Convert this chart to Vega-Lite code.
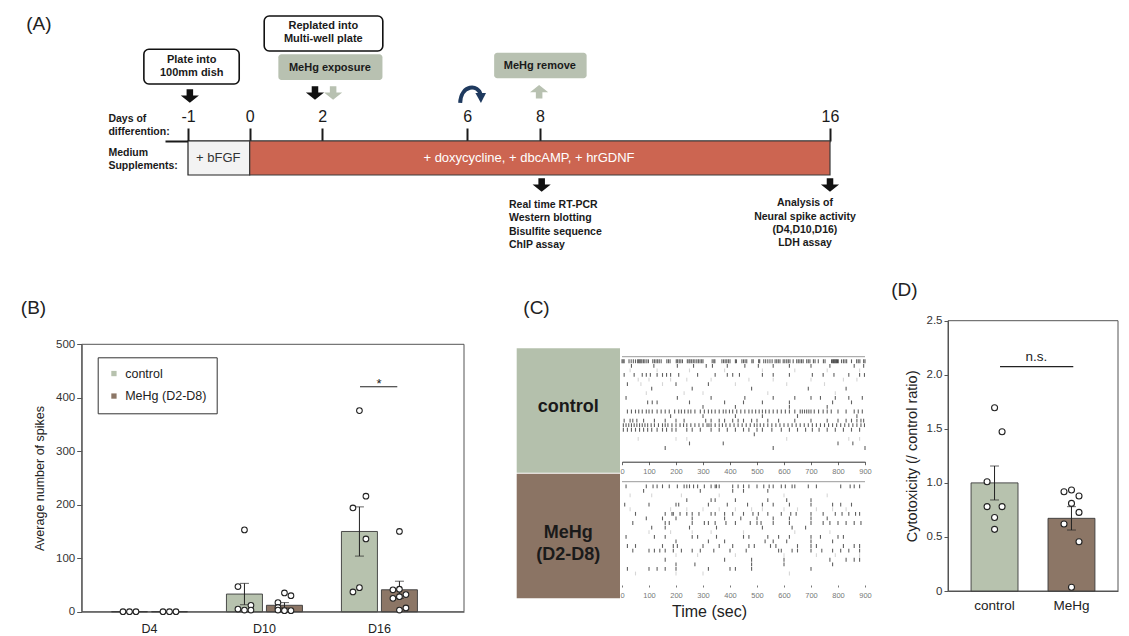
{
"$schema": "https://vega.github.io/schema/vega-lite/v6.json",
"width": 1129,
"height": 636,
"autosize": {"type": "none"},
"padding": 0,
"background": "white",
"config": {"view": {"stroke": null}, "font": "Liberation Sans"},
"datasets": {
 "one": [{"k": 1}],
 "aSeg": [
  {"seg": "bFGF", "from": -1, "to": 0, "label": "+ bFGF", "at": -0.51},
  {"seg": "main", "from": 0, "to": 16, "label": "+ doxycycline,  + dbcAMP,  + hrGDNF", "at": 7.7}
 ],
 "aCallouts": [
  {"kind": "box", "text": "Plate into\n100mm dish", "x0": -1.71, "x1": -0.17, "y0": 4.93, "y1": 8.4, "tx": -0.94, "ty": 6.03},
  {"kind": "box", "text": "Replated into\nMulti-well plate", "x0": 0.4, "x1": 3.67, "y0": 1.6, "y1": 5.1, "tx": 2.03, "ty": 2.62},
  {"kind": "tag", "text": "MeHg exposure", "x0": 0.79, "x1": 3.66, "y0": 5.43, "y1": 8.0, "tx": 2.21, "ty": 6.77},
  {"kind": "tag", "text": "MeHg remove", "x0": 6.74, "x1": 9.29, "y0": 5.27, "y1": 7.83, "tx": 8.0, "ty": 6.6}
 ],
 "aArrows": [
  {"kind": "blackdown", "day": -0.97, "lvl": 9.6},
  {"kind": "blackdown", "day": 1.8, "lvl": 9.3},
  {"kind": "blackdown", "day": 8.05, "lvl": 18.5},
  {"kind": "blackdown", "day": 16, "lvl": 18.5},
  {"kind": "greydown", "day": 2.3, "lvl": 9.3},
  {"kind": "greyup", "day": 7.98, "lvl": 9.17},
  {"kind": "curve", "day": 6.15, "lvl": 9.5}
 ],
 "aNotes": [
  {"style": "side", "text": "Days of\ndifferention:", "day": -2.28, "lvl": 11.9},
  {"style": "side", "text": "Medium\nSupplements:", "day": -2.28, "lvl": 15.27},
  {"style": "side", "text": "Real time RT-PCR\nWestern blotting\nBisulfite sequence\nChIP assay", "day": 7.15, "lvl": 20.5},
  {"style": "center", "text": "Analysis of\nNeural spike activity\n(D4,D10,D16)\nLDH assay", "day": 15.31, "lvl": 20.33},
  {"style": "heading", "text": "(A)", "day": -3.4, "lvl": 2.35}
 ],
 "bBars": [
  {"day": "D4", "group": "control", "mean": 0, "lo": 0, "hi": 0},
  {"day": "D4", "group": "MeHg (D2-D8)", "mean": 0, "lo": 0, "hi": 0},
  {"day": "D10", "group": "control", "mean": 33, "lo": 13, "hi": 53},
  {"day": "D10", "group": "MeHg (D2-D8)", "mean": 12, "lo": 7, "hi": 17},
  {"day": "D16", "group": "control", "mean": 150, "lo": 104, "hi": 196},
  {"day": "D16", "group": "MeHg (D2-D8)", "mean": 41, "lo": 25, "hi": 57}
 ],
 "bPts": [
  {"day": "D4", "group": "control", "v": 0, "j": -1},
  {"day": "D4", "group": "control", "v": 0, "j": 0},
  {"day": "D4", "group": "control", "v": 0, "j": 1},
  {"day": "D4", "group": "MeHg (D2-D8)", "v": 0, "j": -1},
  {"day": "D4", "group": "MeHg (D2-D8)", "v": 0, "j": 0},
  {"day": "D4", "group": "MeHg (D2-D8)", "v": 0, "j": 1},
  {"day": "D10", "group": "control", "v": 153, "j": 0},
  {"day": "D10", "group": "control", "v": 47, "j": -1},
  {"day": "D10", "group": "control", "v": 12, "j": 1},
  {"day": "D10", "group": "control", "v": 5, "j": -1},
  {"day": "D10", "group": "control", "v": 3, "j": 0},
  {"day": "D10", "group": "control", "v": 3, "j": 1},
  {"day": "D10", "group": "MeHg (D2-D8)", "v": 35, "j": 0},
  {"day": "D10", "group": "MeHg (D2-D8)", "v": 30, "j": 1},
  {"day": "D10", "group": "MeHg (D2-D8)", "v": 17, "j": -1},
  {"day": "D10", "group": "MeHg (D2-D8)", "v": 8, "j": -1},
  {"day": "D10", "group": "MeHg (D2-D8)", "v": 3, "j": -1},
  {"day": "D10", "group": "MeHg (D2-D8)", "v": 2, "j": 0},
  {"day": "D10", "group": "MeHg (D2-D8)", "v": 2, "j": 1},
  {"day": "D16", "group": "control", "v": 376, "j": 0},
  {"day": "D16", "group": "control", "v": 216, "j": 1},
  {"day": "D16", "group": "control", "v": 194, "j": -1},
  {"day": "D16", "group": "control", "v": 136, "j": 1},
  {"day": "D16", "group": "control", "v": 45, "j": 0},
  {"day": "D16", "group": "control", "v": 37, "j": -1},
  {"day": "D16", "group": "MeHg (D2-D8)", "v": 150, "j": 0},
  {"day": "D16", "group": "MeHg (D2-D8)", "v": 41, "j": -1},
  {"day": "D16", "group": "MeHg (D2-D8)", "v": 42, "j": 0},
  {"day": "D16", "group": "MeHg (D2-D8)", "v": 32, "j": 1},
  {"day": "D16", "group": "MeHg (D2-D8)", "v": 25, "j": -1},
  {"day": "D16", "group": "MeHg (D2-D8)", "v": 28, "j": 0},
  {"day": "D16", "group": "MeHg (D2-D8)", "v": 7, "j": 1},
  {"day": "D16", "group": "MeHg (D2-D8)", "v": 3, "j": 0}
 ],
 "bNotes": [{"text": "(B)", "x": -0.126, "y": 568}],
 "bSig": [{"from": 0.728, "to": 0.8255, "y": 420.7, "ty": 426, "label": "*"}],
 "cBoxes": [
  {"g": "control", "label": "control"},
  {"g": "MeHg", "label": "MeHg\n(D2-D8)"}
 ],
 "cNotes": [{"text": "(C)", "x": -316.7, "y": -10.67}],
 "cRaster": [
  {"ch": 1, "k": "d", "t": [0,4,8,26,34,42,50,58,62,66,70,74,80,85,92,98,114,120,126,132,138,145,166,172,178,201,206,212,218,224,242,248,252,258,264,270,277,283,289,295,300,334,340,344,370,376,382,388,394,400,420,424,444,450,456,462,481,486,506,510,525,532,540,548,556,567,573,579,585,597,603,610,616,622,634,647,653,659,665,671,684,690,696,709,715,727,746,752,776,779,783,786,789,792,795,798,801,813,820,826,832,850,869,875,881,895,900]},
  {"ch": 2, "k": "d", "t": [35,118,205,265,312,335,390,455,505,560,620,700,770,860,895]},
  {"ch": 3, "k": "f", "t": [30,130,250,380,520,640,760,880]},
  {"ch": 4, "k": "d", "t": [8,45,75,90,105,130,150,165,180,210,280,345,390,410,435,520,560,620,705,745,785,840,880,898]},
  {"ch": 5, "k": "f", "t": [60,100,180,240,330,470,560,700,820,870]},
  {"ch": 6, "k": "f", "t": [70,150,420,610,750]},
  {"ch": 6, "k": "d", "t": [20,200,320]},
  {"ch": 7, "k": "d", "t": [110,260,480,690,830]},
  {"ch": 8, "k": "f", "t": [90,230,300,540,790]},
  {"ch": 9, "k": "d", "t": [15,205,330,455,560,640,700,735,790,840,890]},
  {"ch": 10, "k": "d", "t": [95,112,130,250,380,450,520,620,780,850]},
  {"ch": 11, "k": "d", "t": [300,420,620,760]},
  {"ch": 12, "k": "d", "t": [20,35,50,62,75,90,100,112,130,145,160,175,195,210,220,232,245,255,270,290,305,320,332,345,360,375,385,398,410,425,440,455,470,482,495,508,520,532,545,560,575,590,605,620,640,660,668,676,684,692,700,712,728,745,760,775,800,830,860,875,890]},
  {"ch": 13, "k": "d", "t": [180,300,420,520,650,870]},
  {"ch": 14, "k": "d", "t": [8,30,40,55,80,120,160,200,230,310,330,360,380,410,430,450,480,500,540,580,640,700,760,800,830,850,870,885,895]},
  {"ch": 15, "k": "d", "t": [5,15,25,35,45,55,65,75,85,95,108,120,135,150,160,170,185,200,215,228,240,255,270,285,300,315,322,330,345,360,372,385,400,415,430,445,460,475,490,500,512,525,540,555,570,585,600,615,630,645,660,675,690,705,720,735,750,765,780,795,810,825,840,855,870,885,898]},
  {"ch": 16, "k": "d", "t": [5,20,35,50,65,80,95,110,130,150,165,185,200,240,260,290,330,360,390,420,450,470,500,520,555,590,620,650,680,705,730,760,790,820,850,880]},
  {"ch": 17, "k": "d", "t": [490]},
  {"ch": 18, "k": "f", "t": [60,200,240,610,840,880]},
  {"ch": 19, "k": "d", "t": [250,375,800,855]},
  {"ch": 20, "k": "d", "t": [160,560,900]}
 ],
 "mRaster": [
  {"ch": 1, "k": "d", "t": [15,90,115,130,150,175,205,230,240,250,265,280,305,330,345,350,360,410,430,450,470,500,525,545,560,590,605,630,640,690,720,810,845,860,880]},
  {"ch": 2, "k": "d", "t": [80,290,410,450,540]},
  {"ch": 3, "k": "f", "t": [30,110,220,360,600,760]},
  {"ch": 4, "k": "d", "t": [240,330,345,420,540,610,700]},
  {"ch": 5, "k": "d", "t": [10,100,200,210,320,390,465,520,560,620,700,780,810,850]},
  {"ch": 6, "k": "f", "t": [30,180,240,300,360,420,480,520,600,650,720,780,830]},
  {"ch": 7, "k": "d", "t": [50,160,185,190,215,240,260,285,330,345,380,410,450,485,505,540,590,625,645,700,745,790,815,840,865,880]},
  {"ch": 8, "k": "d", "t": [90,150,200,260,380,440,500,560,620,700,760]},
  {"ch": 9, "k": "d", "t": [40,160,175,260,305,320,345,385,420,475,500,515,560,620,700,745,770,800,830,860,885]},
  {"ch": 10, "k": "d", "t": [110,160,250,350,520,630,680]},
  {"ch": 11, "k": "f", "t": [100,180,260,330,450,640,770]},
  {"ch": 12, "k": "d", "t": [15,120,160,260,280,350,450,470,540,580,620,700,735,800,820]},
  {"ch": 13, "k": "d", "t": [200,320,380,530,560,610,700,780]},
  {"ch": 14, "k": "d", "t": [20,50,150,190,205,300,360,410,470,490,550,570,650,700,720,820,860,880]},
  {"ch": 15, "k": "d", "t": [40,100,120,140,160,190,220,260,290,340,400,460,580,590,630,650,700,740,780,810,840,880]},
  {"ch": 16, "k": "f", "t": [200,280,420,600,720,790,880]},
  {"ch": 17, "k": "d", "t": [160,380,480,600,770,830,860,880]},
  {"ch": 18, "k": "d", "t": [200,270,480,600,780]},
  {"ch": 19, "k": "d", "t": [20,100,130,160,200,320,400,420,480,700]},
  {"ch": 20, "k": "f", "t": [50,200,300,620]}
 ],
 "dBars": [
  {"group": "control", "mean": 1.0, "lo": 0.842, "hi": 1.156},
  {"group": "MeHg", "mean": 0.672, "lo": 0.564, "hi": 0.78}
 ],
 "dPts": [
  {"group": "control", "v": 1.695, "j": 0},
  {"group": "control", "v": 1.473, "j": 1},
  {"group": "control", "v": 1.011, "j": -1},
  {"group": "control", "v": 0.78, "j": -1},
  {"group": "control", "v": 0.78, "j": 1},
  {"group": "control", "v": 0.68, "j": 0},
  {"group": "control", "v": 0.57, "j": 0},
  {"group": "MeHg", "v": 0.934, "j": 0},
  {"group": "MeHg", "v": 0.918, "j": -1},
  {"group": "MeHg", "v": 0.878, "j": 1},
  {"group": "MeHg", "v": 0.81, "j": 0},
  {"group": "MeHg", "v": 0.727, "j": 1},
  {"group": "MeHg", "v": 0.62, "j": -1},
  {"group": "MeHg", "v": 0.456, "j": 1},
  {"group": "MeHg", "v": 0.034, "j": 0}
 ],
 "dNotes": [{"text": "(D)", "x": -0.256, "y": 2.784}],
 "dSig": [{"from": 0.306, "to": 0.737, "y": 2.075, "ty": 2.165, "label": "n.s."}]
},
"layer": [
 {
  "layer": [
   {
    "data": {"name": "aSeg"},
    "transform": [{"filter": "datum.seg == 'bFGF'"}],
    "mark": {"type": "rect", "fill": "#f3f3f3", "stroke": "#222", "strokeWidth": 1.2},
    "encoding": {
     "x": {"field": "from", "type": "quantitative",
      "scale": {"domain": [-1.37, -1, 0, 16], "range": [165, 188, 249.7, 830], "nice": false, "zero": false},
      "axis": {"orient": "top", "offset": -141, "values": [-1, 0, 2, 6, 8, 16], "labelExpr": "'' + datum.value", "title": null, "grid": false,
       "domainColor": "#1a1a1a", "domainWidth": 2, "tickColor": "#1a1a1a", "tickWidth": 2, "tickSize": 13,
       "labelFontSize": 16, "labelColor": "#1a1a1a", "labelPadding": 4, "labelFlush": false, "labelOverlap": false}},
     "x2": {"field": "to"},
     "y": {"datum": 14.1, "type": "quantitative", "scale": {"domain": [0, 27], "range": [0, 270], "nice": false, "zero": false}, "axis": null},
     "y2": {"datum": 17.5}
    }
   },
   {
    "data": {"name": "aSeg"},
    "transform": [{"filter": "datum.seg == 'main'"}],
    "mark": {"type": "rect", "fill": "#cc6551", "stroke": "#3a3a3a", "strokeWidth": 1.2},
    "encoding": {
     "x": {"field": "from", "type": "quantitative"},
     "x2": {"field": "to"},
     "y": {"datum": 14.1, "type": "quantitative", "axis": null},
     "y2": {"datum": 17.5}
    }
   },
   {
    "data": {"name": "aSeg"},
    "transform": [{"filter": "datum.seg == 'bFGF'"}],
    "mark": {"type": "text", "fontSize": 13, "color": "#333"},
    "encoding": {
     "x": {"field": "at", "type": "quantitative"},
     "y": {"datum": 15.75, "type": "quantitative", "axis": null},
     "text": {"field": "label"}
    }
   },
   {
    "data": {"name": "aSeg"},
    "transform": [{"filter": "datum.seg == 'main'"}],
    "mark": {"type": "text", "fontSize": 13, "color": "white"},
    "encoding": {
     "x": {"field": "at", "type": "quantitative"},
     "y": {"datum": 15.75, "type": "quantitative", "axis": null},
     "text": {"field": "label"}
    }
   },
   {
    "data": {"name": "aCallouts"},
    "transform": [{"filter": "datum.kind == 'box'"}],
    "mark": {"type": "rect", "fill": "white", "stroke": "#111", "strokeWidth": 1.6, "cornerRadius": 5},
    "encoding": {
     "x": {"field": "x0", "type": "quantitative"},
     "x2": {"field": "x1"},
     "y": {"field": "y0", "type": "quantitative", "axis": null},
     "y2": {"field": "y1"}
    }
   },
   {
    "data": {"name": "aCallouts"},
    "transform": [{"filter": "datum.kind == 'tag'"}],
    "mark": {"type": "rect", "fill": "#b8c1b1", "cornerRadius": 3},
    "encoding": {
     "x": {"field": "x0", "type": "quantitative"},
     "x2": {"field": "x1"},
     "y": {"field": "y0", "type": "quantitative", "axis": null},
     "y2": {"field": "y1"}
    }
   },
   {
    "data": {"name": "aCallouts"},
    "mark": {"type": "text", "fontSize": 11, "fontWeight": "bold", "color": "#1a1a1a", "lineBreak": "\n", "lineHeight": 13},
    "encoding": {
     "x": {"field": "tx", "type": "quantitative"},
     "y": {"field": "ty", "type": "quantitative", "axis": null},
     "text": {"field": "text"}
    }
   },
   {
    "data": {"name": "aArrows"},
    "transform": [{"filter": "datum.kind == 'blackdown'"}],
    "mark": {"type": "point", "shape": "M-0.36,-0.75L0.36,-0.75L0.36,-0.05L1,-0.05L0,0.75L-1,-0.05L-0.36,-0.05Z", "filled": true, "fill": "#111", "size": 330, "opacity": 1},
    "encoding": {
     "x": {"field": "day", "type": "quantitative"},
     "y": {"field": "lvl", "type": "quantitative", "axis": null}
    }
   },
   {
    "data": {"name": "aArrows"},
    "transform": [{"filter": "datum.kind == 'greydown'"}],
    "mark": {"type": "point", "shape": "M-0.36,-0.75L0.36,-0.75L0.36,-0.05L1,-0.05L0,0.75L-1,-0.05L-0.36,-0.05Z", "filled": true, "fill": "#b8c1b1", "size": 330, "opacity": 1},
    "encoding": {
     "x": {"field": "day", "type": "quantitative"},
     "y": {"field": "lvl", "type": "quantitative", "axis": null}
    }
   },
   {
    "data": {"name": "aArrows"},
    "transform": [{"filter": "datum.kind == 'greyup'"}],
    "mark": {"type": "point", "shape": "M-0.36,0.75L0.36,0.75L0.36,0.05L1,0.05L0,-0.75L-1,0.05L-0.36,0.05Z", "filled": true, "fill": "#b8c1b1", "size": 330, "opacity": 1},
    "encoding": {
     "x": {"field": "day", "type": "quantitative"},
     "y": {"field": "lvl", "type": "quantitative", "axis": null}
    }
   },
   {
    "data": {"name": "aArrows"},
    "transform": [{"filter": "datum.kind == 'curve'"}],
    "mark": {"type": "point", "shape": "M-0.95,0.6C-0.9,-0.8 0.45,-0.85 0.6,0.0", "filled": false, "stroke": "#1f3a5f", "strokeWidth": 4, "size": 700, "opacity": 1},
    "encoding": {
     "x": {"field": "day", "type": "quantitative"},
     "y": {"field": "lvl", "type": "quantitative", "axis": null}
    }
   },
   {
    "data": {"name": "aArrows"},
    "transform": [{"filter": "datum.kind == 'curve'"}],
    "mark": {"type": "point", "shape": "M0.2,-0.15L1.0,-0.15L0.62,0.6Z", "filled": true, "fill": "#1f3a5f", "size": 700, "opacity": 1},
    "encoding": {
     "x": {"field": "day", "type": "quantitative"},
     "y": {"field": "lvl", "type": "quantitative", "axis": null}
    }
   },
   {
    "data": {"name": "aNotes"},
    "transform": [{"filter": "datum.style == 'side'"}],
    "mark": {"type": "text", "align": "left", "fontSize": 10.5, "fontWeight": "bold", "color": "#1a1a1a", "lineBreak": "\n", "lineHeight": 13.4},
    "encoding": {
     "x": {"field": "day", "type": "quantitative"},
     "y": {"field": "lvl", "type": "quantitative", "axis": null},
     "text": {"field": "text"}
    }
   },
   {
    "data": {"name": "aNotes"},
    "transform": [{"filter": "datum.style == 'center'"}],
    "mark": {"type": "text", "align": "center", "fontSize": 10.5, "fontWeight": "bold", "color": "#1a1a1a", "lineBreak": "\n", "lineHeight": 13.4},
    "encoding": {
     "x": {"field": "day", "type": "quantitative"},
     "y": {"field": "lvl", "type": "quantitative", "axis": null},
     "text": {"field": "text"}
    }
   },
   {
    "data": {"name": "aNotes"},
    "transform": [{"filter": "datum.style == 'heading'"}],
    "mark": {"type": "text", "align": "center", "fontSize": 19, "color": "#222"},
    "encoding": {
     "x": {"field": "day", "type": "quantitative"},
     "y": {"field": "lvl", "type": "quantitative", "axis": null},
     "text": {"field": "text"}
    }
   }
  ]
 },
 {
  "layer": [
   {
    "data": {"name": "one"},
    "mark": {"type": "rect", "fillOpacity": 0, "stroke": "#555", "strokeWidth": 1},
    "encoding": {
     "x": {"datum": 0, "type": "quantitative", "scale": {"domain": [0, 1], "range": [81.7, 464], "nice": false, "zero": false}, "axis": null},
     "x2": {"datum": 1},
     "y": {"datum": 0, "type": "quantitative", "scale": {"domain": [0, 500], "range": [611.7, 344.3], "nice": false, "zero": false}, "axis": null},
     "y2": {"datum": 500}
    }
   },
   {
    "data": {"name": "bNotes"},
    "mark": {"type": "text", "fontSize": 19, "color": "#222"},
    "encoding": {
     "x": {"field": "x", "type": "quantitative", "axis": null},
     "y": {"field": "y", "type": "quantitative", "axis": null},
     "text": {"field": "text"}
    }
   },
   {
    "data": {"name": "bSig"},
    "mark": {"type": "rule", "color": "#222", "strokeWidth": 1.1},
    "encoding": {
     "x": {"field": "from", "type": "quantitative", "axis": null},
     "x2": {"field": "to"},
     "y": {"field": "y", "type": "quantitative", "axis": null}
    }
   },
   {
    "data": {"name": "bSig"},
    "mark": {"type": "text", "fontSize": 13, "color": "#222"},
    "encoding": {
     "x": {"datum": 0.778, "type": "quantitative", "axis": null},
     "y": {"field": "ty", "type": "quantitative", "axis": null},
     "text": {"field": "label"}
    }
   }
  ]
 },
 {
  "layer": [
   {
    "data": {"name": "bBars"},
    "mark": {"type": "bar", "stroke": "#3a3a3a", "strokeWidth": 0.9},
    "encoding": {
     "x": {"field": "day", "type": "nominal",
      "scale": {"domain": ["D4", "D10", "D16"], "range": [81.7, 464], "paddingInner": 0.339, "paddingOuter": 0.332, "align": 0.39},
      "axis": {"orient": "bottom", "offset": -24.3, "title": null, "ticks": false, "labelAngle": 0, "labelFontSize": 12.5, "labelColor": "#222", "labelPadding": 11, "domainColor": "#555"}},
     "xOffset": {"field": "group", "type": "nominal", "scale": {"domain": ["control", "MeHg (D2-D8)"], "paddingInner": 0.1, "paddingOuter": 0}},
     "y": {"field": "mean", "type": "quantitative",
      "scale": {"domain": [0, 500], "range": [611.7, 344.3], "nice": false, "zero": false},
      "axis": {"orient": "left", "offset": -81.7, "values": [0, 100, 200, 300, 400, 500], "title": "Average number of spikes", "grid": false,
       "domainColor": "#555", "tickColor": "#555", "tickSize": 5, "labelFontSize": 11.5, "labelColor": "#333", "labelPadding": 2,
       "titleFontSize": 12.5, "titleFontWeight": "normal", "titleColor": "#222", "titlePadding": 9}},
     "color": {"field": "group", "type": "nominal",
      "scale": {"domain": ["control", "MeHg (D2-D8)"], "range": ["#b7c2ae", "#8c7666"]},
      "legend": {"orient": "none", "legendX": 97.7, "legendY": 357.3, "title": null, "strokeColor": "#333", "fillColor": "white",
       "padding": 10, "symbolType": "square", "symbolSize": 28, "symbolStrokeWidth": 0, "labelFontSize": 12.5, "labelColor": "#222",
       "rowPadding": 9.5, "labelOffset": 5}}
    }
   },
   {
    "data": {"name": "bBars"},
    "transform": [{"filter": "datum.hi > 0"}],
    "mark": {"type": "rule", "color": "#222", "strokeWidth": 1},
    "encoding": {
     "x": {"field": "day", "type": "nominal"},
     "xOffset": {"field": "group", "type": "nominal"},
     "y": {"field": "lo", "type": "quantitative"},
     "y2": {"field": "hi"}
    }
   },
   {
    "data": {"name": "bBars"},
    "transform": [{"filter": "datum.hi > 0"}, {"fold": ["lo", "hi"], "as": ["which", "val"]}],
    "mark": {"type": "tick", "color": "#222", "size": 9, "thickness": 1},
    "encoding": {
     "x": {"field": "day", "type": "nominal"},
     "xOffset": {"field": "group", "type": "nominal"},
     "y": {"field": "val", "type": "quantitative"}
    }
   }
  ]
 },
 {
  "data": {"name": "bPts"},
  "transform": [{"filter": "datum.group == 'control'"}],
  "mark": {"type": "point", "shape": "circle", "filled": true, "fill": "white", "stroke": "#222", "strokeWidth": 1.1, "size": 32, "opacity": 1},
  "encoding": {
   "x": {"field": "day", "type": "nominal", "scale": {"domain": ["D4", "D10", "D16"], "range": [81.7, 464], "paddingInner": 0.339, "paddingOuter": 0.332, "align": 0.39}, "axis": null},
   "xOffset": {"field": "j", "type": "quantitative", "scale": {"domain": [-1, 1], "range": [11.5, 24.5], "nice": false, "zero": false}},
   "y": {"field": "v", "type": "quantitative", "scale": {"domain": [0, 500], "range": [611.7, 344.3], "nice": false, "zero": false}, "axis": null}
  }
 },
 {
  "data": {"name": "bPts"},
  "transform": [{"filter": "datum.group != 'control'"}],
  "mark": {"type": "point", "shape": "circle", "filled": true, "fill": "white", "stroke": "#222", "strokeWidth": 1.1, "size": 32, "opacity": 1},
  "encoding": {
   "x": {"field": "day", "type": "nominal", "scale": {"domain": ["D4", "D10", "D16"], "range": [81.7, 464], "paddingInner": 0.339, "paddingOuter": 0.332, "align": 0.39}, "axis": null},
   "xOffset": {"field": "j", "type": "quantitative", "scale": {"domain": [-1, 1], "range": [51.5, 64.5], "nice": false, "zero": false}},
   "y": {"field": "v", "type": "quantitative", "scale": {"domain": [0, 500], "range": [611.7, 344.3], "nice": false, "zero": false}, "axis": null}
  }
 },
 {
  "layer": [
   {
    "data": {"name": "cBoxes"},
    "mark": {"type": "rect"},
    "encoding": {
     "x": {"datum": 0, "type": "quantitative", "scale": {"domain": [0, 1], "range": [516.7, 620], "nice": false, "zero": false}, "axis": null},
     "x2": {"datum": 1},
     "y": {"field": "g", "type": "nominal", "scale": {"domain": ["control", "MeHg"], "range": [348.3, 598.3], "paddingInner": 0.008, "paddingOuter": 0}, "axis": null},
     "color": {"field": "g", "type": "nominal", "scale": {"domain": ["control", "MeHg"], "range": ["#b4c0ac", "#8b7464"]}, "legend": null}
    }
   },
   {
    "data": {"name": "cBoxes"},
    "mark": {"type": "text", "fontSize": 18, "fontWeight": "bold", "color": "#1a1a1a", "lineBreak": "\n", "lineHeight": 22, "dy": -3.5},
    "encoding": {
     "x": {"datum": 0.5, "type": "quantitative", "axis": null},
     "y": {"field": "g", "type": "nominal", "axis": null},
     "text": {"field": "label"}
    }
   }
  ]
 },
 {
  "layer": [
   {
    "data": {"name": "cRaster"},
    "transform": [{"flatten": ["t"]}],
    "mark": {"type": "tick", "orient": "vertical", "size": 3.8, "thickness": 1.1},
    "encoding": {
     "x": {"field": "t", "type": "quantitative", "scale": {"domain": [0, 900], "range": [622, 865], "nice": false, "zero": false},
      "axis": {"orient": "bottom", "offset": -174.3, "values": [0, 100, 200, 300, 400, 500, 600, 700, 800, 900], "title": null, "grid": false,
       "domainColor": "#333", "tickColor": "#666", "tickSize": 3, "labelFontSize": 7.5, "labelColor": "#777", "labelPadding": 3, "labelFlush": false}},
     "y": {"field": "ch", "type": "quantitative", "scale": {"domain": [0, 23], "range": [356.7, 461.7], "nice": false, "zero": false}, "axis": null},
     "color": {"field": "k", "type": "nominal", "scale": {"domain": ["d", "f"], "range": ["#1c1c1c", "#c4c4c4"]}, "legend": null}
    }
   },
   {
    "data": {"name": "one"},
    "mark": {"type": "rule", "color": "#9a9a9a", "strokeWidth": 1},
    "encoding": {
     "x": {"datum": 0, "type": "quantitative"},
     "x2": {"datum": 900},
     "y": {"datum": 0, "type": "quantitative", "axis": null}
    }
   },
   {
    "data": {"name": "cNotes"},
    "mark": {"type": "text", "fontSize": 19, "color": "#222"},
    "encoding": {
     "x": {"field": "x", "type": "quantitative"},
     "y": {"field": "y", "type": "quantitative", "axis": null},
     "text": {"field": "text"}
    }
   }
  ]
 },
 {
  "layer": [
   {
    "data": {"name": "mRaster"},
    "transform": [{"flatten": ["t"]}],
    "mark": {"type": "tick", "orient": "vertical", "size": 3.8, "thickness": 1.1},
    "encoding": {
     "x": {"field": "t", "type": "quantitative", "scale": {"domain": [0, 900], "range": [622, 865], "nice": false, "zero": false},
      "axis": {"orient": "bottom", "offset": -51, "values": [0, 100, 200, 300, 400, 500, 600, 700, 800, 900], "title": "Time (sec)", "grid": false,
       "domain": false, "tickColor": "#777", "tickSize": 2, "labelFontSize": 7.5, "labelColor": "#777", "labelPadding": 4, "labelFlush": false,
       "titleFontSize": 16, "titleFontWeight": "normal", "titleColor": "#222", "titleX": 709, "titleY": 26, "titleBaseline": "middle"}},
     "y": {"field": "ch", "type": "quantitative", "scale": {"domain": [0, 22.5], "range": [481.7, 585], "nice": false, "zero": false}, "axis": null},
     "color": {"field": "k", "type": "nominal", "scale": {"domain": ["d", "f"], "range": ["#1c1c1c", "#c4c4c4"]}, "legend": null}
    }
   },
   {
    "data": {"name": "one"},
    "mark": {"type": "rule", "color": "#9a9a9a", "strokeWidth": 1},
    "encoding": {
     "x": {"datum": 0, "type": "quantitative"},
     "x2": {"datum": 900},
     "y": {"datum": 0, "type": "quantitative", "axis": null}
    }
   }
  ]
 },
 {
  "layer": [
   {
    "data": {"name": "one"},
    "mark": {"type": "rect", "fillOpacity": 0, "stroke": "#555", "strokeWidth": 1},
    "encoding": {
     "x": {"datum": 0, "type": "quantitative", "scale": {"domain": [0, 1], "range": [948, 1118], "nice": false, "zero": false}, "axis": null},
     "x2": {"datum": 1},
     "y": {"datum": 0, "type": "quantitative", "scale": {"domain": [0, 2.5], "range": [591, 320.7], "nice": false, "zero": false}, "axis": null},
     "y2": {"datum": 2.5}
    }
   },
   {
    "data": {"name": "dNotes"},
    "mark": {"type": "text", "fontSize": 19, "color": "#222"},
    "encoding": {
     "x": {"field": "x", "type": "quantitative", "axis": null},
     "y": {"field": "y", "type": "quantitative", "axis": null},
     "text": {"field": "text"}
    }
   },
   {
    "data": {"name": "dSig"},
    "mark": {"type": "rule", "color": "#222", "strokeWidth": 1.1},
    "encoding": {
     "x": {"field": "from", "type": "quantitative", "axis": null},
     "x2": {"field": "to"},
     "y": {"field": "y", "type": "quantitative", "axis": null}
    }
   },
   {
    "data": {"name": "dSig"},
    "mark": {"type": "text", "fontSize": 13.5, "color": "#222"},
    "encoding": {
     "x": {"datum": 0.52, "type": "quantitative", "axis": null},
     "y": {"field": "ty", "type": "quantitative", "axis": null},
     "text": {"field": "label"}
    }
   }
  ]
 },
 {
  "layer": [
   {
    "data": {"name": "dBars"},
    "mark": {"type": "bar", "stroke": "#3a3a3a", "strokeWidth": 0.9},
    "encoding": {
     "x": {"field": "group", "type": "nominal",
      "scale": {"domain": ["control", "MeHg"], "range": [948, 1118], "paddingInner": 0.39, "paddingOuter": 0.3},
      "axis": {"orient": "bottom", "offset": -45, "title": null, "ticks": false, "labelAngle": 0, "labelFontSize": 13.5, "labelColor": "#222", "labelPadding": 7, "domainColor": "#555"}},
     "y": {"field": "mean", "type": "quantitative",
      "scale": {"domain": [0, 2.5], "range": [591, 320.7], "nice": false, "zero": false},
      "axis": {"orient": "left", "offset": -948, "values": [0, 0.5, 1, 1.5, 2, 2.5], "labelExpr": "datum.value == 0 ? '0' : format(datum.value, '.1f')", "title": "Cytotoxicity (/ control ratio)", "grid": false,
       "domainColor": "#555", "tickColor": "#555", "tickSize": 4, "labelFontSize": 11.5, "labelColor": "#333", "labelPadding": 2,
       "titleFontSize": 14.5, "titleFontWeight": "normal", "titleColor": "#222", "titlePadding": 7}},
     "color": {"field": "group", "type": "nominal", "scale": {"domain": ["control", "MeHg"], "range": ["#b7c2ae", "#8c7666"]}, "legend": null}
    }
   },
   {
    "data": {"name": "dBars"},
    "mark": {"type": "rule", "color": "#222", "strokeWidth": 1},
    "encoding": {
     "x": {"field": "group", "type": "nominal"},
     "y": {"field": "lo", "type": "quantitative"},
     "y2": {"field": "hi"}
    }
   },
   {
    "data": {"name": "dBars"},
    "transform": [{"fold": ["lo", "hi"], "as": ["which", "val"]}],
    "mark": {"type": "tick", "color": "#222", "size": 9, "thickness": 1},
    "encoding": {
     "x": {"field": "group", "type": "nominal"},
     "y": {"field": "val", "type": "quantitative"}
    }
   }
  ]
 },
 {
  "data": {"name": "dPts"},
  "mark": {"type": "point", "shape": "circle", "filled": true, "fill": "white", "stroke": "#222", "strokeWidth": 1.1, "size": 36, "opacity": 1},
  "encoding": {
   "x": {"field": "group", "type": "nominal", "scale": {"domain": ["control", "MeHg"], "range": [948, 1118], "paddingInner": 0.39, "paddingOuter": 0.3}, "axis": null},
   "xOffset": {"field": "j", "type": "quantitative", "scale": {"domain": [-1, 1], "range": [16, 31], "nice": false, "zero": false}},
   "y": {"field": "v", "type": "quantitative", "scale": {"domain": [0, 2.5], "range": [591, 320.7], "nice": false, "zero": false}, "axis": null}
  }
 }
],
"resolve": {
 "scale": {"x": "independent", "y": "independent", "color": "independent", "xOffset": "independent"},
 "axis": {"x": "independent", "y": "independent"},
 "legend": {"color": "independent"}
}
}
